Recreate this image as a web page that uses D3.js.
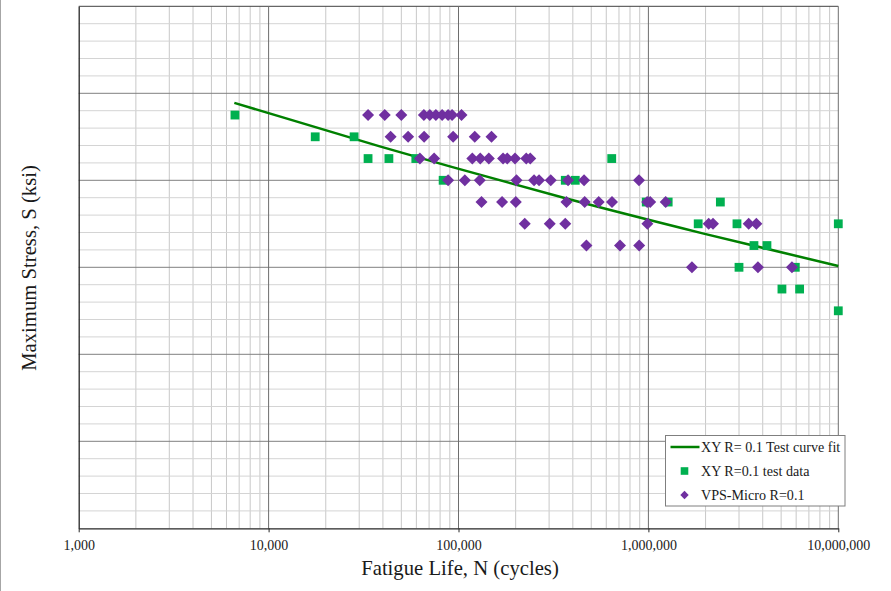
<!DOCTYPE html>
<html>
<head>
<meta charset="utf-8">
<script src="https://cdn.jsdelivr.net/npm/d3@7"></script>
<style>
body { margin: 0; background: #fff; }
svg { display: block; font-family: "Liberation Serif", "Times New Roman", serif; }
</style>
</head>
<body>
<svg id="chart" width="891" height="591"></svg>
<script>
// fit curve [N, S]
var fitCurve = [[6600, 48.9], [38500, 43.9], [90000, 41.6], [370000, 37.9], [1930000, 33.9], [10000000, 30.15]];

// XY R=0.1 test data [N, S]
var testData = [
    [6650, 47.5],
    [17600, 45], [28200, 45],
    [33400, 42.5], [43000, 42.5], [59600, 42.5], [641000, 42.5],
    [83000, 40], [365000, 40], [412000, 40],
    [974000, 37.5], [1271000, 37.5], [2393000, 37.5],
    [1829000, 35], [2927000, 35], [10000000, 35],
    [3596000, 32.5], [4210000, 32.5],
    [3000000, 30], [5938000, 30],
    [5049000, 27.5], [6256000, 27.5],
    [10000000, 25]
];

// VPS-Micro R=0.1 [N, S]
var vpsData = [
    [33400, 47.5], [40900, 47.5], [50000, 47.5], [65700, 47.5], [70600, 47.5],
    [76000, 47.5], [82000, 47.5], [88200, 47.5], [92500, 47.5], [103700, 47.5],
    [43900, 45], [54300, 45], [65900, 45], [93700, 45], [121800, 45], [149200, 45],
    [62600, 42.5], [74400, 42.5], [118200, 42.5], [130200, 42.5], [144400, 42.5],
    [171700, 42.5], [180600, 42.5], [198400, 42.5], [227400, 42.5], [238700, 42.5],
    [88200, 40], [108000, 40], [129400, 40], [202000, 40], [250000, 40],
    [265600, 40], [306000, 40], [377500, 40], [458300, 40], [892400, 40],
    [132200, 37.5], [169600, 37.5], [200300, 37.5], [370300, 37.5], [461900, 37.5],
    [547500, 37.5], [643300, 37.5], [985600, 37.5], [1022000, 37.5], [1233000, 37.5],
    [223300, 35], [302400, 35], [364900, 35], [987900, 35],
    [2077000, 35], [2188000, 35], [3373000, 35], [3702000, 35],
    [471600, 32.5], [708800, 32.5], [894600, 32.5],
    [1696000, 30], [3775000, 30], [5698000, 30]
];

var xTickValues = [1000, 10000, 100000, 1000000, 10000000];
var legendLabels = ["XY R= 0.1 Test curve fit", "XY R=0.1 test data", "VPS-Micro R=0.1"];

var lineColor = "#008000";
var squareColor = "#00B050";
var diamondColor = "#7030A0";

var svg = d3.select("#chart");
var pLeft = 78.7, pRight = 838.3, pTop = 6.3, pBottom = 528.3;

var x = d3.scaleLog().domain([1000, 10000000]).range([pLeft, pRight]);
var y = d3.scaleLinear().domain([0, 60]).range([pBottom, pTop]);

// image edge line on the left
svg.append("line")
    .attr("x1", 0.5).attr("x2", 0.5).attr("y1", 0).attr("y2", 591)
    .attr("stroke", "#a6a6a6").attr("stroke-width", 1);

// minor grid
var grid = svg.append("g");
grid.selectAll(".vminor")
    .data(x.ticks().filter(function(d) { return Math.abs(Math.log10(d) % 1) > 1e-6; }))
    .enter().append("line")
    .attr("x1", function(d) { return x(d); })
    .attr("x2", function(d) { return x(d); })
    .attr("y1", pTop).attr("y2", pBottom)
    .attr("stroke", "#c8c8c8").attr("stroke-width", 1);

grid.selectAll(".hminor")
    .data(y.ticks(30).filter(function(d) { return d % 10 !== 0; }))
    .enter().append("line")
    .attr("x1", pLeft).attr("x2", pRight)
    .attr("y1", function(d) { return y(d); })
    .attr("y2", function(d) { return y(d); })
    .attr("stroke", "#d4d4d4").attr("stroke-width", 1);

// major grid
grid.selectAll(".hmajor")
    .data(y.ticks(6).filter(function(d) { return d > 0; }))
    .enter().append("line")
    .attr("x1", pLeft).attr("x2", pRight)
    .attr("y1", function(d) { return y(d); })
    .attr("y2", function(d) { return y(d); })
    .attr("stroke", function(d) { return d === 60 ? "#404040" : "#808080"; })
    .attr("stroke-width", 1);

grid.selectAll(".vmajor")
    .data(xTickValues.slice(1))
    .enter().append("line")
    .attr("x1", function(d) { return x(d); })
    .attr("x2", function(d) { return x(d); })
    .attr("y1", pTop).attr("y2", pBottom)
    .attr("stroke", "#6e6e6e").attr("stroke-width", 1);

// axes
var xAxis = svg.append("g")
    .attr("transform", "translate(0," + pBottom + ")")
    .call(d3.axisBottom(x).tickValues(xTickValues).tickFormat(d3.format(",")).tickSize(4).tickPadding(8).tickSizeOuter(0));
xAxis.select(".domain").attr("stroke", "#262626").attr("stroke-width", 1.3);
xAxis.selectAll(".tick line").attr("stroke", "#262626");
xAxis.selectAll("text")
    .attr("font-family", "Liberation Serif, serif")
    .attr("font-size", "14px")
    .attr("fill", "#1a1a1a");

var yAxis = svg.append("g")
    .attr("transform", "translate(" + pLeft + ",0)")
    .call(d3.axisLeft(y).tickValues([]).tickSizeOuter(0));
yAxis.select(".domain").attr("stroke", "#262626").attr("stroke-width", 1.3);

// fit curve
var line = d3.line()
    .x(function(d) { return x(d[0]); })
    .y(function(d) { return y(d[1]); })
    .curve(d3.curveMonotoneX);

svg.append("path")
    .attr("d", line(fitCurve))
    .attr("fill", "none")
    .attr("stroke", lineColor)
    .attr("stroke-width", 2.5);

// test data squares
var sq = 8.8;
svg.selectAll(".sq")
    .data(testData)
    .enter().append("rect")
    .attr("x", function(d) { return x(d[0]) - sq / 2; })
    .attr("y", function(d) { return y(d[1]) - sq / 2; })
    .attr("width", sq).attr("height", sq)
    .attr("fill", squareColor);

// VPS diamonds
var dm = 6;
function diamondPath(cx, cy, r) {
    return "M" + cx + "," + (cy - r) + "L" + (cx + r) + "," + cy + "L" + cx + "," + (cy + r) + "L" + (cx - r) + "," + cy + "Z";
}
svg.selectAll(".dm")
    .data(vpsData)
    .enter().append("path")
    .attr("d", function(d) { return diamondPath(x(d[0]), y(d[1]), dm); })
    .attr("fill", diamondColor);

// axis titles
svg.append("text")
    .attr("x", 460)
    .attr("y", 575)
    .attr("text-anchor", "middle")
    .attr("font-size", "20.7px")
    .attr("fill", "#1a1a1a")
    .text("Fatigue Life, N (cycles)");

svg.append("text")
    .attr("transform", "translate(35.5,268) rotate(-90)")
    .attr("text-anchor", "middle")
    .attr("font-size", "20.7px")
    .attr("fill", "#1a1a1a")
    .text("Maximum Stress, S (ksi)");

// legend
var legend = svg.append("g").attr("transform", "translate(665.5,435.5)");
legend.append("rect")
    .attr("width", 179.5).attr("height", 70.5)
    .attr("fill", "#fff")
    .attr("stroke", "#7f7f7f").attr("stroke-width", 1);

var rowY = [11.5, 35.5, 59.5];
legend.append("line")
    .attr("x1", 5).attr("x2", 34)
    .attr("y1", rowY[0]).attr("y2", rowY[0])
    .attr("stroke", lineColor).attr("stroke-width", 2.5);
legend.append("rect")
    .attr("x", 19 - 3.8).attr("y", rowY[1] - 3.8)
    .attr("width", 7.6).attr("height", 7.6)
    .attr("fill", squareColor);
legend.append("path")
    .attr("d", diamondPath(19, rowY[2], 4.2))
    .attr("fill", diamondColor);

legend.selectAll(".lt")
    .data(legendLabels)
    .enter().append("text")
    .attr("x", 35.5)
    .attr("y", function(d, i) { return rowY[i] + 5; })
    .attr("font-size", "14.1px")
    .attr("fill", "#1a1a1a")
    .text(function(d) { return d; });
</script>
</body>
</html>
